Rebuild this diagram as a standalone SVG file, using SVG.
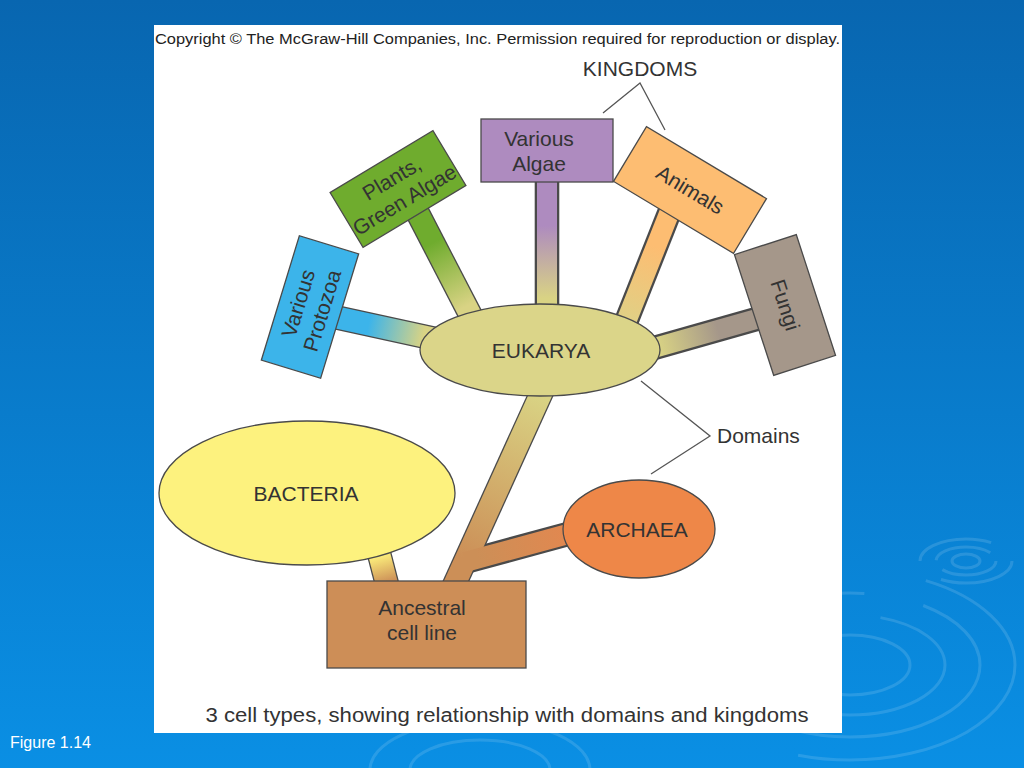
<svg xmlns="http://www.w3.org/2000/svg" width="1024" height="768" viewBox="0 0 1024 768">
<defs>
<linearGradient id="bg" x1="0" y1="0" x2="0" y2="1">
<stop offset="0" stop-color="#0866b0"/>
<stop offset="1" stop-color="#0a8fe4"/>
</linearGradient>
<linearGradient id="gProto" gradientUnits="userSpaceOnUse" x1="330" y1="316" x2="440" y2="340">
<stop offset="0.35" stop-color="#3cb4ea"/><stop offset="0.85" stop-color="#d9d384"/>
</linearGradient>
<linearGradient id="gGreen" gradientUnits="userSpaceOnUse" x1="412" y1="202" x2="472" y2="318">
<stop offset="0.35" stop-color="#6fac2e"/><stop offset="0.9" stop-color="#d9d384"/>
</linearGradient>
<linearGradient id="gAlgae" gradientUnits="userSpaceOnUse" x1="547" y1="175" x2="547" y2="320">
<stop offset="0.35" stop-color="#ae8bbf"/><stop offset="0.85" stop-color="#d9d384"/>
</linearGradient>
<linearGradient id="gAnimal" gradientUnits="userSpaceOnUse" x1="676" y1="196" x2="626" y2="322">
<stop offset="0.4" stop-color="#fdbd72"/><stop offset="0.95" stop-color="#e2cf84"/>
</linearGradient>
<linearGradient id="gFungi" gradientUnits="userSpaceOnUse" x1="640" y1="352" x2="760" y2="318">
<stop offset="0.15" stop-color="#d9d384"/><stop offset="0.65" stop-color="#a5978a"/>
</linearGradient>
<linearGradient id="gTrunk" gradientUnits="userSpaceOnUse" x1="545" y1="385" x2="451" y2="590">
<stop offset="0.05" stop-color="#d9d384"/><stop offset="0.85" stop-color="#cc8f57"/>
</linearGradient>
<linearGradient id="gArch" gradientUnits="userSpaceOnUse" x1="465" y1="562" x2="590" y2="528">
<stop offset="0.1" stop-color="#cc8f57"/><stop offset="0.9" stop-color="#e4874f"/>
</linearGradient>
<linearGradient id="gBact" gradientUnits="userSpaceOnUse" x1="375" y1="540" x2="389" y2="590">
<stop offset="0.3" stop-color="#fdf07c"/><stop offset="0.85" stop-color="#cc8f57"/>
</linearGradient>
<style>
.lbl{font-family:"Liberation Sans",Arial,sans-serif;font-size:21px;fill:#333;text-anchor:middle}
.note{font-family:"Liberation Sans",Arial,sans-serif;font-size:21px;fill:#333}
.shape{stroke:#4a4a4a;stroke-width:1.3}
.edge{stroke:#4a4a4a;stroke-width:24.6;fill:none}
.br{stroke:#555;stroke-width:1.3;fill:none}
.rip{fill:none;stroke:#ffffff;stroke-opacity:0.13;stroke-width:3}
</style>
</defs>

<rect x="0" y="0" width="1024" height="768" fill="url(#bg)"/>
<g id="ripples">
<ellipse class="rip" cx="966" cy="561" rx="14" ry="7"/>
<ellipse class="rip" cx="966" cy="561" rx="30" ry="14" stroke-dasharray="60 12"/>
<ellipse class="rip" cx="966" cy="561" rx="46" ry="22" stroke-dasharray="80 30"/>
<ellipse class="rip" cx="850" cy="665" rx="60" ry="30"/>
<ellipse class="rip" cx="850" cy="665" rx="95" ry="50" stroke-dasharray="150 40"/>
<ellipse class="rip" cx="850" cy="665" rx="130" ry="72" stroke-dasharray="220 60"/>
<ellipse class="rip" cx="850" cy="665" rx="165" ry="95" stroke-dasharray="260 90"/>
<ellipse class="rip" cx="480" cy="770" rx="70" ry="30"/>
<ellipse class="rip" cx="480" cy="770" rx="110" ry="50"/>
</g>

<rect x="154" y="25" width="688" height="708" fill="#ffffff"/>

<text x="155" y="44" font-family="Liberation Sans, Arial, sans-serif" font-size="15.5" fill="#222" textLength="685" lengthAdjust="spacingAndGlyphs">Copyright © The McGraw-Hill Companies, Inc. Permission required for reproduction or display.</text>

<g id="connectors">
<line class="edge" x1="330" y1="316" x2="440" y2="340"/>
<line class="edge" x1="412" y1="202" x2="472" y2="318"/>
<line class="edge" x1="547" y1="175" x2="547" y2="320" stroke-width="22.6"/>
<line class="edge" x1="676" y1="196" x2="626" y2="322" stroke-width="22.6"/>
<line class="edge" x1="640" y1="352" x2="760" y2="318" stroke-width="22.6"/>
<line class="edge" x1="451" y1="592" x2="545" y2="385"/>
<line class="edge" x1="465" y1="562" x2="590" y2="528" stroke-width="22.6"/>
<line class="edge" x1="375" y1="538" x2="389" y2="592"/>
<line x1="330" y1="316" x2="440" y2="340" stroke="url(#gProto)" stroke-width="22"/>
<line x1="412" y1="202" x2="472" y2="318" stroke="url(#gGreen)" stroke-width="22"/>
<line x1="547" y1="175" x2="547" y2="320" stroke="url(#gAlgae)" stroke-width="20"/>
<line x1="676" y1="196" x2="626" y2="322" stroke="url(#gAnimal)" stroke-width="20"/>
<line x1="640" y1="352" x2="760" y2="318" stroke="url(#gFungi)" stroke-width="20"/>
<line x1="451" y1="592" x2="545" y2="385" stroke="url(#gTrunk)" stroke-width="22"/>
<line x1="465" y1="562" x2="590" y2="528" stroke="url(#gArch)" stroke-width="20"/>
<line x1="375" y1="538" x2="389" y2="592" stroke="url(#gBact)" stroke-width="22"/>
<polyline class="br" points="603,113 640,83 665,130"/>
<polyline class="br" points="641,381 710,436 651,474"/>
</g>

<g id="protozoa" transform="translate(310,307) rotate(-73)">
<rect class="shape" x="-65" y="-31" width="130" height="62" fill="#3cb4ea"/>
<text class="lbl" x="0" y="-5">Various</text>
<text class="lbl" x="0" y="20">Protozoa</text>
</g>
<g id="plants" transform="translate(398,189) rotate(-31)">
<rect class="shape" x="-60" y="-32" width="120" height="64" fill="#6fac2e"/>
<text class="lbl" x="0" y="-5">Plants,</text>
<text class="lbl" x="0" y="20">Green Algae</text>
</g>
<g id="algae">
<rect class="shape" x="481" y="119" width="132" height="63" fill="#ae8bbf"/>
<text class="lbl" x="539" y="146">Various</text>
<text class="lbl" x="539" y="171">Algae</text>
</g>
<g id="animals" transform="translate(690,190) rotate(31)">
<rect class="shape" x="-70" y="-32" width="140" height="64" fill="#fdbd72"/>
<text class="lbl" x="0" y="7">Animals</text>
</g>
<g id="fungi" transform="translate(785,305) rotate(72)">
<rect class="shape" x="-63.5" y="-32.5" width="127" height="65" fill="#a5978a"/>
<text class="lbl" x="0" y="7">Fungi</text>
</g>
<g id="eukarya">
<ellipse class="shape" cx="540" cy="350" rx="120" ry="46" fill="#dbd589"/>
<text class="lbl" x="541" y="358">EUKARYA</text>
</g>
<g id="bacteria">
<ellipse class="shape" cx="307" cy="493" rx="148" ry="72" fill="#fdf27e"/>
<text class="lbl" x="306" y="501">BACTERIA</text>
</g>
<g id="archaea">
<ellipse class="shape" cx="639" cy="529" rx="76" ry="49" fill="#ee8748"/>
<text class="lbl" x="637" y="537">ARCHAEA</text>
</g>
<g id="ancestral">
<rect class="shape" x="327" y="581" width="199" height="87" fill="#cd8e57"/>
<text class="lbl" x="422" y="615">Ancestral</text>
<text class="lbl" x="422" y="640">cell line</text>
</g>
<g id="labels">
<text class="lbl" x="640" y="76">KINGDOMS</text>
<text class="note" x="717" y="443">Domains</text>
</g>

<text x="507" y="722" font-family="Liberation Sans, Arial, sans-serif" font-size="20" fill="#333" text-anchor="middle" textLength="603" lengthAdjust="spacingAndGlyphs">3 cell types, showing relationship with domains and kingdoms</text>
<text x="10" y="748" font-family="Liberation Sans, Arial, sans-serif" font-size="16" fill="#ffffff">Figure 1.14</text>
</svg>
